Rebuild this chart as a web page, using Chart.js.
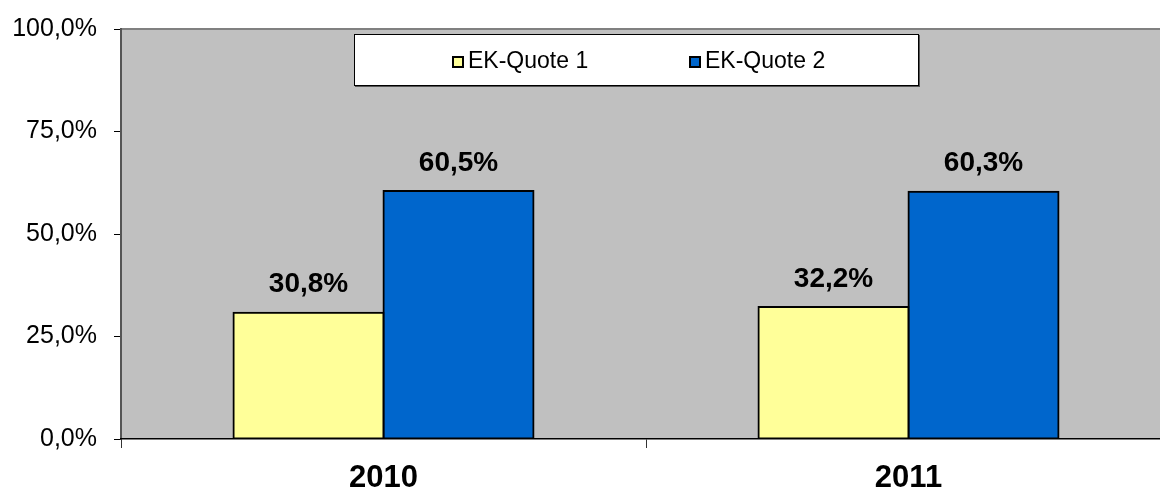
<!DOCTYPE html>
<html>
<head>
<meta charset="utf-8">
<script src="https://cdn.jsdelivr.net/npm/chart.js@4.4.0/dist/chart.umd.min.js"></script>
<style>
	html, body { margin: 0; padding: 0; overflow: hidden; background: #fff; }
	#wrap { position: relative; width: 1180px; height: 490px; }
	#legend_box {
		position: absolute; left: 354px; top: 34px; width: 565px; height: 52px;
		box-sizing: border-box; background: #fff; border: 1px solid #000;
		box-shadow: 1px 1px 0 #555;
		font-family: "Liberation Sans", Arial, sans-serif; font-size: 23px; color: #000;
	}
	.lg_item { position: absolute; top: 12px; height: 26px; line-height: 26px; white-space: nowrap; }
	.lg_mark { display: inline-block; width: 12px; height: 12px; box-sizing: border-box; border: 2px solid #000; margin-right: 4px; vertical-align: 0px; }
</style>
</head>
<body>
<div id="wrap">
	<canvas id="barChartCanvas" width="1180" height="490"></canvas>
	<div id="legend_box"></div>
</div>
<script>
var yearLabels = ['2010', '2011'];
var quote1Values = [30.8, 32.2];
var quote2Values = [60.5, 60.3];
var seriesNames = ['EK-Quote 1', 'EK-Quote 2'];
var seriesColors = ['#FFFF99', '#0066CC'];
var yTickValues = [0, 25, 50, 75, 100];

function fmtPct(v){
	return v.toFixed(1).replace('.', ',') + '%';
}

var plotBgPlugin = {
	id: 'plotBg',
	beforeDraw: function(chart){
		var ctx = chart.ctx, a = chart.chartArea;
		ctx.save();
		ctx.fillStyle = '#C0C0C0';
		ctx.fillRect(a.left, a.top, a.right - a.left, a.bottom - a.top);
		ctx.fillStyle = '#808080';
		ctx.fillRect(a.left, a.top - 1, a.right - a.left, 2);
		ctx.restore();
	}
};

var valueLabelPlugin = {
	id: 'valueLabels',
	afterDatasetsDraw: function(chart){
		var ctx = chart.ctx;
		ctx.save();
		ctx.font = 'bold 28px "Liberation Sans", Arial, sans-serif';
		ctx.fillStyle = '#000';
		ctx.textAlign = 'center';
		ctx.textBaseline = 'middle';
		chart.data.datasets.forEach(function(ds, i){
			chart.getDatasetMeta(i).data.forEach(function(bar, j){
				ctx.fillText(fmtPct(ds.data[j]), bar.x, bar.y - 28);
			});
		});
		ctx.restore();
	}
};

(function () {
	'use strict'

	var ctx = document.getElementById('barChartCanvas');
	var myChart = new Chart(ctx, {
		type: 'bar',
		data: {
			labels: yearLabels,
			datasets: [
				{ label: seriesNames[0], data: quote1Values, backgroundColor: seriesColors[0], borderColor: '#000', borderWidth: 2, borderSkipped: false, inflateAmount: 1 },
				{ label: seriesNames[1], data: quote2Values, backgroundColor: seriesColors[1], borderColor: '#000', borderWidth: 2, borderSkipped: false, inflateAmount: 1 }
			]
		},
		options: {
			responsive: false,
			animation: false,
			categoryPercentage: 300 / 525,
			barPercentage: 1,
			layout: { padding: { top: 29, right: 9, left: 0, bottom: 0 } },
			scales: {
				y: {
					min: 0, max: 100,
					afterBuildTicks: function(scale){ scale.ticks = yTickValues.map(function(v){ return { value: v }; }); },
					afterFit: function(scale){ scale.width = 121; scale.paddingTop = 0; scale.paddingBottom = 0; },
					ticks: {
						color: '#000', padding: 17,
						font: { family: '"Liberation Sans", Arial, sans-serif', size: 25 },
						callback: function(v){ return fmtPct(v); }
					},
					grid: { drawOnChartArea: false, tickLength: 7, tickColor: '#000', tickWidth: 1 },
					border: { display: true, color: '#555', width: 2 }
				},
				x: {
					afterFit: function(scale){ scale.height = 51; },
					ticks: {
						color: '#000', padding: 12,
						font: { family: '"Liberation Sans", Arial, sans-serif', size: 31, weight: 'bold' }
					},
					grid: { drawOnChartArea: false, offset: true, tickLength: 9, tickColor: '#333', tickWidth: 1 },
					border: { display: true, color: '#000', width: 1.5 }
				}
			},
			plugins: {
				legend: { display: false },
				tooltip: { enabled: false }
			}
		},
		plugins: [plotBgPlugin, valueLabelPlugin]
	});

	// legend built from the datasets
	var lefts = [97, 334];
	var tagStr = '';
	myChart.data.datasets.forEach(function(ds, i){
		tagStr += '<span class="lg_item" style="left:' + lefts[i] + 'px;"><span class="lg_mark" style="background:' + ds.backgroundColor + ';"></span>' + ds.label + '</span>';
	});
	document.getElementById('legend_box').innerHTML = tagStr;
})()
</script>
</body>
</html>
